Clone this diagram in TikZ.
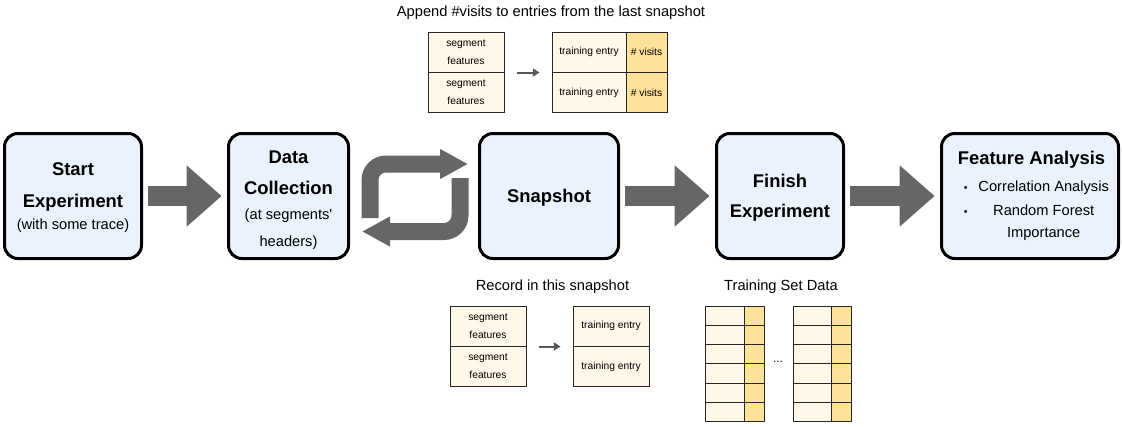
\documentclass[tikz,border=0pt]{standalone}
\usepackage{fontspec}
\setmainfont{Liberation Sans}
\usetikzlibrary{arrows.meta, calc, positioning}

\definecolor{boxblue}{RGB}{234,243,253}
\definecolor{cream}{RGB}{255,248,232}
\definecolor{gold}{RGB}{255,226,153}
\definecolor{arrowgray}{RGB}{102,102,102}

\newcommand{\subtxt}[1]{{\mdseries\fontsize{11}{23}\selectfont #1}}

\tikzset{
  stage/.style={draw=black, line width=2.25pt, rounded corners=10pt, fill=boxblue,
    minimum width=#1, minimum height=93.75pt, inner sep=0pt, align=center,
    text depth=0pt, font=\fontsize{13.8}{23}\selectfont\bfseries},
  cell/.style={draw=black!85, line width=0.75pt, fill=cream, minimum width=#1,
    minimum height=30pt, inner sep=0pt, align=center,
    font=\fontsize{7.7}{13.5}\selectfont},
  goldcell/.style={cell=#1, fill=gold},
  row/.style={draw=black!85, line width=0.75pt, fill=#1, minimum height=14.5pt, inner sep=0pt},
  caption/.style={font=\fontsize{11}{13}\selectfont, inner sep=0pt},
  bigarrow/.style={draw=arrowgray, line width=15pt,
    -{Triangle[length=26.25pt, width=44.25pt]}, shorten <=4pt, shorten >=4pt},
  looparrow/.style={draw=arrowgray, line width=12.75pt, rounded corners=12pt,
    -{Triangle[length=21pt, width=21pt]}},
  smallarrow/.style={draw=arrowgray!85!black, line width=1.5pt,
    -{Triangle[length=5pt, width=6pt]}, shorten <=9pt, shorten >=9pt}
}

\begin{document}
\begin{tikzpicture}[x=0.75pt, y=-0.75pt]
\useasboundingbox (0,0) rectangle (1122,426);

% Stages
\node[stage=102.75pt] (start) at (73,196) {Start\\[1pt]Experiment\\[-7pt]\subtxt{(with some trace)}};
\node[stage=90pt] (collect) at (288.5,196) {\rule{0pt}{14pt}Data\\Collection\\[-4.2pt]\subtxt{(at segments\textquotesingle}\\[-2.5pt]\subtxt{headers)}};
\node[stage=104.25pt] (snap) at (549,196) {Snapshot};
\node[stage=95.25pt] (finish) at (780,196) {Finish\\[-0.5pt]Experiment};
\node[stage=132.75pt, text depth=] (feature) at (1030,196) {\hspace*{12.75pt}\fontsize{11}{18}\selectfont
  \begin{tabular}{@{}c@{\hspace{5pt}}c@{}}
  \multicolumn{2}{c}{\hspace*{-10.5pt}\fontsize{13.8}{18}\selectfont Feature Analysis}\\[2.7pt]
  \subtxt{\fontsize{8}{8}\selectfont\textbullet} & \subtxt{Correlation Analysis}\\
  \subtxt{\fontsize{8}{8}\selectfont\textbullet} & \subtxt{Random Forest}\\[-1.5pt]
  & \subtxt{Importance}
  \end{tabular}};

% Main arrows
\draw[bigarrow] (start) -- (collect);
\draw[bigarrow] (snap) -- (finish);
\draw[bigarrow] (finish) -- (feature);

% Loop between collection and snapshot
\coordinate (loop) at (415,197);
\draw[looparrow] ($(loop)+(-45,21)$) |- ($(loop)+(53,-33)$);
\draw[looparrow] ($(loop)+(45,-19)$) |- ($(loop)+(-53,34.5)$);

% Append #visits
\node[caption] (appcap) at (551,13) {Append \#visits to entries from the last snapshot};
\node[cell=57pt] (appseg1) at (466,52) {segment\\features};
\node[cell=57pt] (appseg2) at (466,92.5) {segment\\features};
\node[cell=55.5pt] (appent1) at (589,52) {training entry};
\node[cell=55.5pt] (appent2) at (589,92.5) {training entry};
\node[goldcell=30.75pt] (appvis1) at (646.5,52) {\# visits};
\node[goldcell=30.75pt] (appvis2) at (646.5,92.5) {\# visits};
\draw[smallarrow] (appseg1.south east) -- (appent1.south west);

% Record in this snapshot
\node[caption] (reccap) at (552.5,287) {Record in this snapshot};
\node[cell=57pt] (recseg1) at (488,326) {segment\\features};
\node[cell=57pt] (recseg2) at (488,366.5) {segment\\features};
\node[cell=57pt] (recent1) at (611,326) {training entry};
\node[cell=57pt] (recent2) at (611,366.5) {training entry};
\draw[smallarrow] (recseg1.south east) -- (recent1.south west);

% Training set data
\node[caption] (setcap) at (781,287) {Training Set Data};
\foreach \i in {0,...,5} {
  \node[row=cream, minimum width=29.25pt] (setA\i) at (724.5,315.7+19.3*\i) {};
  \node[row=gold, minimum width=15pt] (setB\i) at (754,315.7+19.3*\i) {};
  \node[row=cream, minimum width=28.5pt] (setC\i) at (812,315.7+19.3*\i) {};
  \node[row=gold, minimum width=15pt] (setD\i) at (841,315.7+19.3*\i) {};
}
\node[caption, font=\fontsize{9}{9}\selectfont] (dots) at (778,362) {...};
\end{tikzpicture}
\end{document}
